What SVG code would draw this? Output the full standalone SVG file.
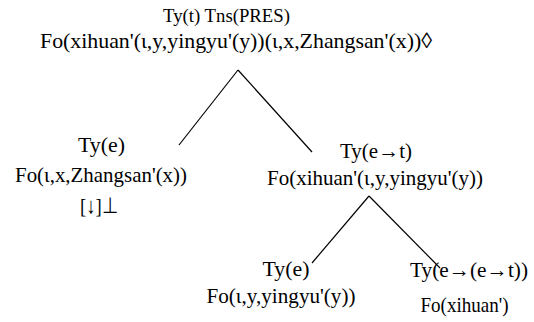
<svg xmlns="http://www.w3.org/2000/svg" width="534" height="322" viewBox="0 0 534 322">
  <style>
    .t { font-family: "Liberation Serif", "Times New Roman", serif; fill: #000; text-anchor: middle; font-size: 22px; }
    .small { font-size: 18px; }
    .edge { stroke: #000; stroke-width: 1.2; fill: none; }
  </style>
  <rect width="534" height="322" fill="#fff"/>

  <!-- tree edges -->
  <g id="connectors">
    <line class="edge" x1="238" y1="70" x2="179" y2="145"/>
    <line class="edge" x1="238" y1="70" x2="312" y2="152"/>
    <line class="edge" x1="369" y1="196" x2="312" y2="263"/>
    <line class="edge" x1="369" y1="196" x2="440" y2="268"/>
  </g>

  <g id="root">
    <text class="t small" x="226.5" y="22" textLength="127" lengthAdjust="spacingAndGlyphs">Ty(t) Tns(PRES)</text>
    <text class="t" x="236" y="48" textLength="392" lengthAdjust="spacingAndGlyphs">Fo(xihuan'(ι,y,yingyu'(y))(ι,x,Zhangsan'(x))◊</text>
  </g>

  <g id="subject">
    <text class="t" x="101.5" y="152" textLength="47" lengthAdjust="spacingAndGlyphs">Ty(e)</text>
    <text class="t" x="101" y="182" textLength="172" lengthAdjust="spacingAndGlyphs">Fo(ι,x,Zhangsan'(x))</text>
    <text class="t" x="99" y="213" textLength="38" lengthAdjust="spacingAndGlyphs">[↓]⊥</text>
  </g>

  <g id="predicate">
    <text class="t" x="376" y="158" textLength="72" lengthAdjust="spacingAndGlyphs">Ty(e→t)</text>
    <text class="t" x="375" y="185" textLength="216" lengthAdjust="spacingAndGlyphs">Fo(xihuan'(ι,y,yingyu'(y))</text>
  </g>

  <g id="object">
    <text class="t" x="286" y="276" textLength="47" lengthAdjust="spacingAndGlyphs">Ty(e)</text>
    <text class="t" x="281" y="303" textLength="149" lengthAdjust="spacingAndGlyphs">Fo(ι,y,yingyu'(y))</text>
  </g>

  <g id="verb">
    <text class="t" x="469" y="277" textLength="118" lengthAdjust="spacingAndGlyphs">Ty(e→(e→t))</text>
    <text class="t" x="464.5" y="312" textLength="88" lengthAdjust="spacingAndGlyphs">Fo(xihuan')</text>
  </g>
</svg>
